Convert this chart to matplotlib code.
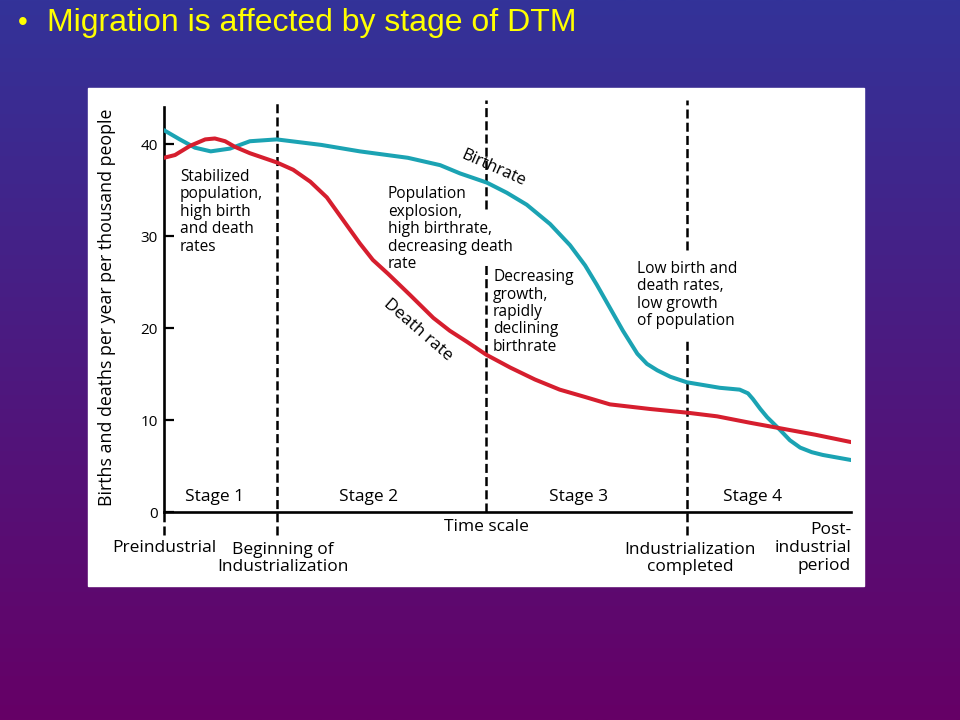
import numpy as np
import matplotlib.pyplot as plt
from matplotlib.colors import LinearSegmentedColormap
from matplotlib.patches import Rectangle

plt.rcParams['font.family'] = ['Open Sans', 'DejaVu Sans']
plt.rcParams['lines.scale_dashes'] = False

# time scale runs 0..100 (preindustrial .. post-industrial)
birth_t = [0.0, 2.3, 4.5, 6.8, 9.6, 12.5, 16.4, 22.9, 28.5, 35.5, 40.2, 43.1, 47.0,
           49.9, 52.8, 56.2, 59.1, 61.3, 63.0, 64.9, 66.8, 68.9, 70.3, 71.8, 73.7,
           76.1, 80.9, 83.8, 85.0, 85.7, 86.8, 87.8, 89.7, 91.1, 92.6, 94.3, 95.9, 100.0]
birth_rate = [41.5, 40.5, 39.6, 39.2, 39.5, 40.3, 40.5, 39.9, 39.2, 38.5, 37.7, 36.8, 35.8,
              34.7, 33.4, 31.3, 29.0, 26.8, 24.7, 22.2, 19.7, 17.2, 16.1, 15.4, 14.7,
              14.1, 13.5, 13.3, 12.9, 12.3, 11.2, 10.3, 8.9, 7.8, 7.0, 6.5, 6.2, 5.65]

death_t = [0.0, 1.6, 3.8, 6.0, 7.4, 8.9, 10.3, 12.5, 16.4, 18.8, 21.3, 23.7, 26.1,
           28.5, 30.4, 32.6, 35.8, 39.2, 41.6, 44.1, 46.9, 50.4, 54.0, 57.6, 61.3,
           64.9, 70.7, 76.1, 80.5, 85.3, 89.7, 94.8, 100.0]
death_rate = [38.5, 38.8, 39.8, 40.5, 40.6, 40.3, 39.7, 39.0, 38.0, 37.2, 35.9, 34.2, 31.7,
              29.2, 27.4, 25.9, 23.6, 21.1, 19.7, 18.5, 17.1, 15.7, 14.4, 13.3, 12.5,
              11.7, 11.2, 10.8, 10.4, 9.7, 9.1, 8.4, 7.6]

stage_names = ['Stage 1', 'Stage 2', 'Stage 3', 'Stage 4']
stage_x = [7.4, 29.8, 60.3, 85.6]
y_ticks = [0, 10, 20, 30, 40]

teal = '#1BA3B3'
red = '#D61E2E'

fig = plt.figure(figsize=(9.6, 7.2), dpi=100)

# slide background (blue -> purple)
bg = fig.add_axes([0, 0, 1, 1])
cmap = LinearSegmentedColormap.from_list('slide', ['#333399', '#660066'])
bg.imshow(np.linspace(0, 1, 256).reshape(-1, 1), aspect='auto', cmap=cmap,
          extent=[0, 1, 0, 1])
bg.add_patch(Rectangle((88 / 960, 1 - 586 / 720), 776 / 960, 498 / 720,
                       color='white', zorder=2))
bg.set_xlim(0, 1)
bg.set_ylim(0, 1)
bg.set_axis_off()

fig.text(18 / 960, 1 - 23 / 720, '\u2022', color='#FFFF00', fontsize=20,
         family='Liberation Sans', va='center')
fig.text(47 / 960, 1 - 23 / 720, 'Migration is affected by stage of DTM', color='#FFFF00',
         fontsize=23, family='Liberation Sans', va='center')

# chart
ax = fig.add_axes([164 / 960, 1 - 512 / 720, 687 / 960, 404.8 / 720])
ax.set_facecolor('none')
ax.set_xlim(0, 100)
ax.set_ylim(0, 44)
for s in ['top', 'right']:
    ax.spines[s].set_visible(False)
for s in ['left', 'bottom']:
    ax.spines[s].set_linewidth(1.9)
ax.set_xticks([])
ax.set_yticks(y_ticks)
ax.tick_params(axis='y', direction='in', length=7.5, width=1.6, pad=4.5, labelsize=11)

ax.plot(birth_t, birth_rate, color=teal, lw=2.9, solid_capstyle='round',
        solid_joinstyle='round', zorder=3)
ax.plot(death_t, death_rate, color=red, lw=2.9, solid_capstyle='round',
        solid_joinstyle='round', zorder=3)

# dashed stage boundaries
dash = dict(color='black', lw=1.8, dashes=(6.5, 3), clip_on=False, zorder=2)
ax.plot([0, 0], [-2.5, 0], **dash)
ax.plot([16.4, 16.4], [-2.5, 44.8], **dash)
ax.plot([46.9, 46.9], [0, 26.8], **dash)
ax.plot([46.9, 46.9], [32.9, 44.8], **dash)
ax.plot([76.1, 76.1], [-2.5, 18.7], **dash)
ax.plot([76.1, 76.1], [28.5, 44.8], **dash)

fs = 11.2
ls = 1.12
ax.text(2.3, 37.3, 'Stabilized\npopulation,\nhigh birth\nand death\nrates',
        fontsize=fs, va='top', linespacing=ls)
ax.text(32.6, 35.4, 'Population\nexplosion,\nhigh birthrate,\ndecreasing death\nrate',
        fontsize=fs, va='top', linespacing=ls)
ax.text(47.9, 26.4, 'Decreasing\ngrowth,\nrapidly\ndeclining\nbirthrate',
        fontsize=fs, va='top', linespacing=ls)
ax.text(68.9, 27.3, 'Low birth and\ndeath rates,\nlow growth\nof population',
        fontsize=fs, va='top', linespacing=ls)

ax.text(47.9, 37.4, 'Birthrate', fontsize=12, rotation=-24, ha='center', va='center',
        rotation_mode='anchor')
ax.text(37.0, 19.8, 'Death rate', fontsize=12.4, rotation=-41, ha='center', va='center',
        rotation_mode='anchor')

bfs = 12.5
bls = 1.1
for name, x in zip(stage_names, stage_x):
    ax.text(x, 1.6, name, fontsize=bfs, ha='center', va='center')

ax.text(46.9, -1.6, 'Time scale', fontsize=bfs, ha='center', va='center', clip_on=False)
ax.text(0, -3.9, 'Preindustrial', fontsize=bfs, ha='center', va='center')
ax.text(17.3, -3.25, 'Beginning of\nIndustrialization', fontsize=bfs, ha='center', va='top',
        linespacing=bls)
ax.text(76.6, -3.25, 'Industrialization\ncompleted', fontsize=bfs, ha='center', va='top',
        linespacing=bls)
ax.text(100, -1.05, 'Post-\nindustrial\nperiod', fontsize=bfs, ha='right', va='top',
        multialignment='right', linespacing=1.18)

ax.text(-8.3, 22.2, 'Births and deaths per year per thousand people', fontsize=12.8,
        rotation=90, ha='center', va='center')

fig.savefig('out.png', dpi=100)
